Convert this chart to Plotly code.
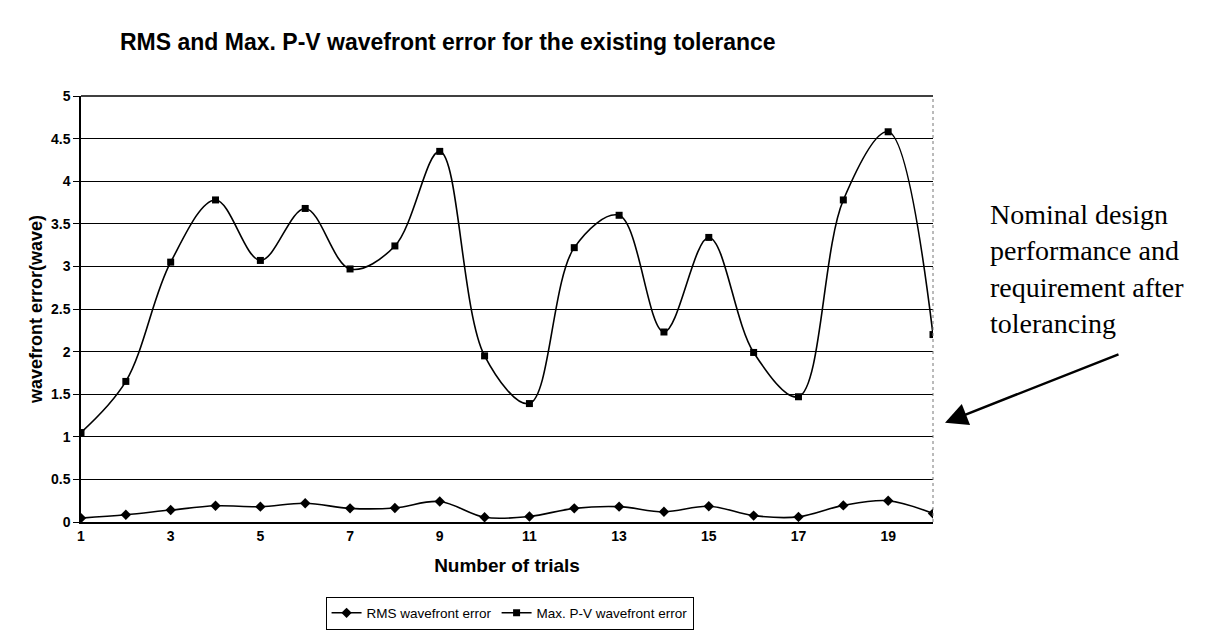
import plotly.graph_objects as go

trials = list(range(1, 21))
rms_error = [0.046, 0.085, 0.14, 0.19, 0.18, 0.22, 0.16, 0.165, 0.24, 0.055,
             0.065, 0.16, 0.18, 0.12, 0.185, 0.075, 0.06, 0.195, 0.25, 0.10]
pv_error = [1.05, 1.65, 3.05, 3.78, 3.07, 3.68, 2.97, 3.24, 4.35, 1.95,
            1.39, 3.22, 3.6, 2.23, 3.34, 1.99, 1.47, 3.78, 4.58, 2.2]
x_tick_vals = [1, 3, 5, 7, 9, 11, 13, 15, 17, 19]
y_tick_vals = [0, 0.5, 1, 1.5, 2, 2.5, 3, 3.5, 4, 4.5, 5]
y_tick_text = ["0", "0.5", "1", "1.5", "2", "2.5", "3", "3.5", "4", "4.5", "5"]

FONT = "Liberation Sans, Arial, sans-serif"
SERIF = "Liberation Serif, Times New Roman, serif"

fig = go.Figure()
fig.add_trace(go.Scatter(
    x=trials, y=rms_error, name="RMS wavefront error",
    mode="lines+markers",
    line=dict(color="black", width=1.6, shape="spline", smoothing=1.0),
    marker=dict(symbol="diamond", size=8, color="black"),
))
fig.add_trace(go.Scatter(
    x=trials, y=pv_error, name="Max. P-V wavefront error",
    mode="lines+markers",
    line=dict(color="black", width=1.6, shape="spline", smoothing=1.0),
    marker=dict(symbol="square", size=7, color="black"),
))

fig.update_layout(
    width=1217, height=634,
    paper_bgcolor="white", plot_bgcolor="white",
    margin=dict(l=73, r=292, t=88, b=104),
    font=dict(family=FONT, color="black"),
    title=dict(
        text="<b>RMS and Max. P-V wavefront error for the existing tolerance</b>",
        font=dict(family=FONT, size=23, color="black"),
        x=112 / 1217, xanchor="left", xref="container",
        y=1 - 34 / 634, yanchor="middle", yref="container",
    ),
    showlegend=True,
    legend=dict(
        orientation="h",
        x=0.503, xanchor="center",
        y=-0.175, yanchor="top",
        bordercolor="black", borderwidth=1,
        bgcolor="white",
        font=dict(family=FONT, size=13.5, color="black"),
        itemwidth=30,
        tracegroupgap=0,
    ),
    xaxis=dict(
        range=[1, 20],
        tickmode="array", tickvals=x_tick_vals,
        tickfont=dict(family=FONT, size=14, color="black", weight="bold"),
        showgrid=False, zeroline=False,
        showline=True, linecolor="black", linewidth=1.5,
        ticks="",
        title=dict(text="<b>Number of trials</b>", standoff=16,
                   font=dict(family=FONT, size=19, color="black")),
        automargin=False,
    ),
    yaxis=dict(
        range=[0, 5],
        tickmode="array", tickvals=y_tick_vals, ticktext=y_tick_text,
        tickfont=dict(family=FONT, size=14, color="black", weight="bold"),
        showgrid=True, gridcolor="black", gridwidth=1.3,
        zeroline=False,
        showline=True, linecolor="black", linewidth=1.5,
        ticks="outside", ticklen=6, tickcolor="black", tickwidth=1.3,
        title=dict(text="<b>wavefront error(wave)</b>", standoff=4,
                   font=dict(family=FONT, size=18, color="black")),
        automargin=False,
    ),
)

# dotted right border of the plot area
fig.add_shape(type="line", xref="paper", yref="paper", x0=1, x1=1, y0=0, y1=1,
              line=dict(color="#777777", width=1, dash="dot"))
# solid top border
fig.add_shape(type="line", xref="paper", yref="paper", x0=0, x1=1, y0=1, y1=1,
              line=dict(color="black", width=1.3))

fig.add_annotation(
    text="Nominal design<br>performance and<br>requirement after<br>tolerancing",
    xref="paper", yref="paper",
    x=(980 - 73) / 852, xanchor="left",
    y=(530 - 268) / 442, yanchor="middle",
    align="left", showarrow=False,
    font=dict(family=SERIF, size=28, color="black"),
)
fig.add_annotation(
    text="", xref="paper", yref="paper",
    x=(937 - 73) / 852, y=(530 - 427) / 442,
    ax=175, ay=-69, axref="pixel", ayref="pixel",
    showarrow=True, arrowhead=2, arrowsize=1.8, arrowwidth=2.5,
    arrowcolor="black",
)

fig.write_html("out.html")
